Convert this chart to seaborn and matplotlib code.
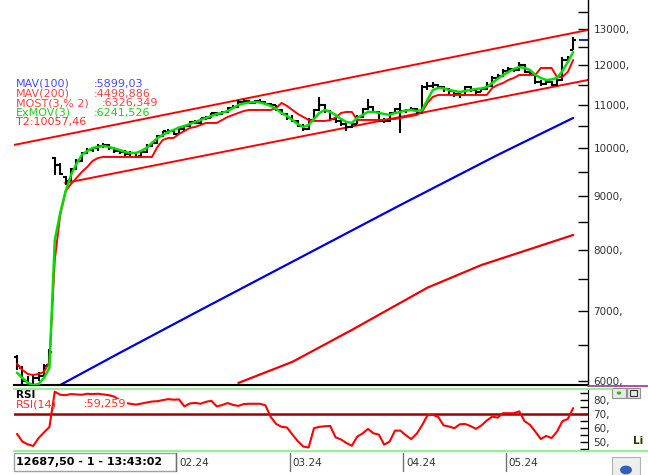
import numpy as np
import matplotlib
matplotlib.use('Agg')
import matplotlib.pyplot as plt
import seaborn as sns
from matplotlib import transforms
from matplotlib.ticker import FixedLocator, FuncFormatter, NullFormatter
from matplotlib.patches import Rectangle, Circle
from matplotlib.lines import Line2D

# ---------------- data ----------------
open_ = [6330, 6180, 6000, 5960, 6040, 6070, 6210, 9790, 9650, 9400,
         9330, 9560, 9720, 9900, 9960, 10000, 10060, 10070, 10000, 9950,
         9920, 9880, 9900, 9830, 9930, 10060, 10130, 10280, 10370, 10400,
         10330, 10430, 10500, 10600, 10580, 10680, 10700, 10800, 10780, 10830,
         10940, 10960, 11080, 11100, 11060, 11100, 11080, 11020, 10990, 10880,
         10780, 10700, 10620, 10500, 10440, 10650, 10880, 11000, 10850, 10660,
         10620, 10540, 10480, 10560, 10720, 10900, 10950, 10830, 10630, 10620,
         10800, 10900, 10850, 10880, 10900, 10800, 11450, 11460, 11500, 11450,
         11400, 11340, 11280, 11250, 11450, 11380, 11330, 11390, 11460, 11680,
         11730, 11860, 11900, 11880, 12010, 11840, 11780, 11580, 11510, 11570,
         11500, 11620, 12150, 12420]
high = [6350, 6200, 6060, 6080, 6120, 6230, 6440, 9810, 9680, 9420,
        9580, 9760, 9930, 10000, 10030, 10090, 10120, 10090, 10030, 9990,
        9960, 9940, 9920, 9950, 10090, 10150, 10300, 10400, 10440, 10420,
        10460, 10520, 10620, 10640, 10700, 10740, 10820, 10840, 10850, 10960,
        11000, 11120, 11140, 11130, 11120, 11140, 11100, 11060, 11000, 10900,
        10800, 10760, 10640, 10540, 10680, 10900, 11200, 11020, 10870, 10700,
        10640, 10570, 10600, 10760, 10940, 11150, 10970, 10850, 10680, 10840,
        10940, 11050, 10910, 10950, 10920, 11500, 11560, 11580, 11520, 11480,
        11420, 11360, 11300, 11480, 11470, 11400, 11420, 11560, 11720, 11780,
        11900, 11950, 11940, 12100, 12030, 11870, 11800, 11620, 11620, 11590,
        11720, 12220, 12260, 12780]
low = [6150, 5960, 5930, 5930, 6000, 6050, 6200, 9430, 9430, 9230,
       9300, 9540, 9700, 9870, 9920, 9950, 10010, 9960, 9900, 9880,
       9820, 9840, 9790, 9800, 9900, 10030, 10100, 10260, 10330, 10300,
       10320, 10400, 10480, 10540, 10560, 10640, 10680, 10740, 10750, 10800,
       10900, 10940, 11040, 11040, 11030, 11050, 10990, 10960, 10860, 10760,
       10650, 10600, 10480, 10400, 10420, 10630, 10860, 10820, 10640, 10580,
       10500, 10400, 10450, 10540, 10700, 10880, 10800, 10600, 10580, 10600,
       10780, 10350, 10820, 10850, 10760, 10780, 11380, 11420, 11400, 11330,
       11260, 11200, 11170, 11240, 11320, 11280, 11310, 11370, 11440, 11660,
       11710, 11820, 11840, 11860, 11800, 11740, 11520, 11460, 11490, 11460,
       11480, 11600, 12080, 12400]
close = [6200, 6000, 5950, 6040, 6060, 6200, 6400, 9650, 9460, 9300,
         9550, 9720, 9900, 9960, 10000, 10060, 10080, 10000, 9950, 9920,
         9870, 9910, 9820, 9930, 10060, 10120, 10280, 10380, 10400, 10330,
         10430, 10500, 10600, 10580, 10680, 10700, 10800, 10780, 10830, 10940,
         10960, 11080, 11100, 11060, 11100, 11080, 11020, 10990, 10880, 10780,
         10700, 10620, 10500, 10440, 10650, 10880, 11000, 10850, 10660, 10620,
         10540, 10480, 10560, 10720, 10900, 10950, 10830, 10630, 10620, 10800,
         10900, 10850, 10880, 10900, 10800, 11450, 11460, 11500, 11450, 11400,
         11340, 11280, 11250, 11450, 11380, 11330, 11390, 11460, 11680, 11730,
         11860, 11900, 11880, 12010, 11840, 11780, 11580, 11510, 11570, 11500,
         11620, 12150, 12200, 12687.5]
exmov = [6110, 6040, 5974, 5947, 5960, 6040, 6174, 8178, 8678, 9100,
         9433, 9664, 9857, 9944, 10010, 10032, 10054, 10032, 10000, 9966,
         9922, 9900, 9900, 9944, 10010, 10120, 10232, 10300, 10368, 10413,
         10470, 10505, 10550, 10598, 10645, 10692, 10738, 10786, 10810, 10857,
         10929, 11001, 11038, 11062, 11074, 11062, 11025, 10977, 10905, 10810,
         10738, 10645, 10550, 10482, 10528, 10668, 10810, 10881, 10834, 10762,
         10668, 10598, 10575, 10692, 10762, 10834, 10834, 10810, 10786, 10762,
         10810, 10834, 10869, 10881, 10857, 10881, 11123, 11369, 11419, 11407,
         11369, 11345, 11320, 11345, 11369, 11394, 11407, 11444, 11545, 11648,
         11750, 11828, 11906, 11958, 11932, 11880, 11750, 11673, 11622, 11635,
         11673, 11854, 12090, 12358]
most = [6230, 6147, 6093, 6079, 6093, 6120, 6257, 7826, 8640, 9100,
        9248, 9370, 9495, 9600, 9728, 9792, 9814, 9814, 9814, 9814,
        9814, 9814, 9814, 9814, 9814, 9814, 10032, 10187, 10232, 10232,
        10322, 10390, 10459, 10482, 10528, 10575, 10575, 10575, 10645, 10715,
        10762, 10810, 10857, 10881, 10881, 10881, 10881, 10881, 10929, 11050,
        10977, 10881, 10786, 10715, 10645, 10622, 10622, 10622, 10640, 10700,
        10810, 10834, 10834, 10645, 10645, 10645, 10645, 10645, 10645, 10668,
        10668, 10692, 10715, 10738, 10762, 10834, 11050, 11197, 11246, 11246,
        11246, 11246, 11246, 11246, 11246, 11246, 11246, 11246, 11419, 11494,
        11545, 11622, 11673, 11750, 11750, 11750, 11750, 11932, 11932, 11932,
        11699, 11699, 11828, 12143]
rsi = [56, 50.5, 48.5, 47.4, 53, 57, 60.8, 86, 83.8, 83.5,
       84.3, 84, 83.8, 84.5, 84.3, 84.5, 84, 83.5, 82.5, 80,
       78, 77.4, 76.8, 77.5, 78.3, 79, 79.2, 80, 80.7, 80.3,
       80.5, 75.5, 77.6, 78, 77.4, 78.8, 79.5, 75.5, 76.5, 77.9,
       76.6, 75.9, 77.2, 77.4, 77.4, 77.4, 76.3, 68, 63, 61,
       60.5, 55.5, 50.8, 47, 46.3, 60, 61, 61.4, 61.6, 53.5,
       52, 49.5, 47.5, 54, 56.3, 59.5, 56.4, 55.5, 48.3, 50.5,
       58.3, 58.3, 55, 52.3, 56, 62, 69.2, 69.5, 68, 62,
       61.2, 60, 62.8, 63, 61.5, 59.5, 62, 65.5, 68.3, 67.5,
       70.7, 70.7, 70.7, 72, 65, 62.4, 57.5, 52.3, 54.5, 53,
       57.6, 65, 66.6, 74.3]

mav100_bar = [8, 19, 34, 52, 71, 89, 103]
mav100_val = [5947, 6381, 7013, 7845, 8831, 9857, 10692]
mav200_bar = [41, 51, 62, 76, 86, 103]
mav200_val = [5974, 6257, 6711, 7364, 7740, 8268]

chan_up_bar = [-0.56, 105.74]
chan_up_val = [10076, 12971]
chan_lo_bar = [8.9, 105.74]
chan_lo_val = [9268, 11622]

price_ticks = [6000, 7000, 8000, 9000, 10000, 11000, 12000, 13000]
price_minor = [6500, 7500, 8500, 9500, 10500, 11500, 12500, 13500]
rsi_ticks = [50, 60, 70, 80]
rsi_minor = [45, 55, 65, 75, 85]
month_pos = [29.5, 50.5, 71.5, 90.5]
month_labels = ["02.24", "03.24", "04.24", "05.24"]

legend_names = ["MAV(100)", "MAV(200)", "MOST(3,% 2)", "ExMOV(3)"]
legend_values = [":5899,03", ":4498,886", ":6326,349", ":6241,526"]
t2_label = "T2:10057,46"
status_text = "12687,50 - 1 - 13:43:02"
rsi_value = ":59,259"

# ---------------- figure ----------------
sns.set_style('white')
plt.rcParams['font.family'] = ['DejaVu Sans']

W, H = 648, 475
fig = plt.figure(figsize=(6.48, 4.75), dpi=100)
fig.patch.set_facecolor('white')


def fx(x):
    return x / W


def fy(y):
    return 1 - y / H


ax = fig.add_axes([fx(14), fy(385), (588 - 14) / W, 385 / H])
ax_r = fig.add_axes([fx(14), fy(451), (588 - 14) / W, 62 / H])

bars = np.arange(len(close))
XL = (-0.556, 105.74)

ax.set_yscale('log')

# channel lines
sns.lineplot(x=chan_up_bar, y=chan_up_val, ax=ax, color='#ff0000', lw=1.4)
sns.lineplot(x=chan_lo_bar, y=chan_lo_val, ax=ax, color='#ff0000', lw=1.4)
# moving averages
sns.lineplot(x=mav100_bar, y=mav100_val, ax=ax, color='#0000dd', lw=1.6)
sns.lineplot(x=mav200_bar, y=mav200_val, ax=ax, color='#ee0000', lw=1.6)

# OHLC bars
bars_a = np.array(bars, dtype=float)
ax.vlines(bars_a, low, high, color='black', lw=1.5, zorder=3)
ax.hlines(open_, bars_a - 0.55, bars_a, color='black', lw=1.5, zorder=3)
ax.hlines(close, bars_a, bars_a + 0.55, color='black', lw=1.5, zorder=3)

# MOST and ExMOV
sns.lineplot(x=bars, y=most, ax=ax, color='#ff0000', lw=1.4, zorder=4)
sns.lineplot(x=bars, y=exmov, ax=ax, color='#00dd00', lw=1.8, zorder=5)

# last price marker
ax.hlines(close[-1], 104.0, XL[1], color='#000080', lw=1.2, zorder=5)

ax.set_xlim(*XL)
ax.set_ylim(5947, 13854)
ax.yaxis.set_major_locator(FixedLocator(price_ticks))
ax.yaxis.set_minor_locator(FixedLocator(price_minor))
ax.yaxis.set_major_formatter(FuncFormatter(lambda v, p: f"{int(round(v))},"))
ax.yaxis.set_minor_formatter(NullFormatter())
ax.yaxis.tick_right()
ax.tick_params(axis='y', which='both', direction='in', length=7, width=1,
               color='black', labelsize=7.5, labelcolor='#333333', pad=4)
ax.set_xticks([])
ax.set_xlabel('')
ax.set_ylabel('')
for s in ['top', 'left']:
    ax.spines[s].set_visible(False)
ax.spines['bottom'].set_color('black')
ax.spines['bottom'].set_linewidth(1.5)
ax.spines['right'].set_color('black')
ax.spines['right'].set_linewidth(1.0)

# ---------------- RSI panel ----------------
ax_r.axhline(70, color='#990000', lw=1.8, zorder=2)
sns.lineplot(x=bars, y=rsi, ax=ax_r, color='#ff0000', lw=1.5, zorder=3)
ax_r.set_xlim(*XL)
ax_r.set_ylim(43.8, 87.9)
ax_r.yaxis.set_major_locator(FixedLocator(rsi_ticks))
ax_r.yaxis.set_minor_locator(FixedLocator(rsi_minor))
ax_r.yaxis.set_major_formatter(FuncFormatter(lambda v, p: f"{int(round(v))},"))
ax_r.yaxis.set_minor_formatter(NullFormatter())
ax_r.yaxis.tick_right()
ax_r.tick_params(axis='y', which='both', direction='in', length=6, width=1,
                 color='black', labelsize=7.5, labelcolor='#333333', pad=4)
ax_r.set_xticks([])
ax_r.set_xlabel('')
ax_r.set_ylabel('')
for s in ['top', 'left', 'bottom']:
    ax_r.spines[s].set_visible(False)
ax_r.spines['right'].set_color('black')

# panel borders
fig.add_artist(Line2D([fx(588), 1], [fy(386), fy(386)], color='#993399', lw=1.2))
fig.add_artist(Line2D([fx(14), fx(612)], [fy(389), fy(389)], color='#99ee99', lw=1.5))
fig.add_artist(Line2D([fx(14), 1], [fy(451), fy(451)], color='#99ee99', lw=1.5))

# ---------------- texts ----------------
leg_colors = ['#4a4aff', '#ff4040', '#ff4040', '#22cc22']
leg_y = [84, 93.5, 103, 112.7]
val_x = [94, 94, 102, 94]
for name, val, c, yy, vx in zip(legend_names, legend_values, leg_colors, leg_y, val_x):
    fig.text(fx(16), fy(yy), name, color=c, fontsize=8, va='center', ha='left')
    fig.text(fx(vx), fy(yy), val, color=c, fontsize=8, va='center', ha='left')
fig.text(fx(16), fy(122), t2_label, color='#ff3030', fontsize=8, va='center', ha='left')

fig.text(fx(16), fy(395), "RSI", color='black', fontsize=7.5, fontweight='bold',
         va='center', ha='left')
fig.text(fx(16), fy(404.5), "RSI(14)", color='#ff3030', fontsize=8, va='center', ha='left')
fig.text(fx(84), fy(404.5), rsi_value, color='#ff3030', fontsize=8, va='center', ha='left',
         bbox=dict(facecolor='white', edgecolor='none', pad=0.5))

# bottom status box and month labels
fig.add_artist(Rectangle((fx(14), fy(471)), (176 - 14) / W, 18 / H, transform=fig.transFigure,
                         facecolor='white', edgecolor='#a0a0a0', lw=1))
fig.text(fx(16), fy(462), status_text, color='black', fontsize=8, fontweight='bold',
         va='center', ha='left')
trans = transforms.blended_transform_factory(ax_r.transData, fig.transFigure)
label_trans = transforms.offset_copy(trans, fig=fig, x=3, y=0, units='dots')
for pos, lab in zip(month_pos, month_labels):
    fig.add_artist(Line2D([pos, pos], [fy(453), fy(471)], transform=trans,
                          color='#707070', lw=1))
    fig.text(pos, fy(463), lab, transform=label_trans,
             color='#333333', fontsize=7.5, va='center', ha='left')

# small widgets on the right
fig.add_artist(Rectangle((fx(612), fy(398)), 14 / W, 10 / H, transform=fig.transFigure,
                         facecolor='#e8e8e8', edgecolor='#909090', lw=0.8))
fig.add_artist(Circle((fx(619), fy(393)), 2.2 / W, transform=fig.transFigure,
                      facecolor='#22bb22', edgecolor='none'))
fig.add_artist(Rectangle((fx(627), fy(398)), 13 / W, 10 / H, transform=fig.transFigure,
                         facecolor='#e8e8e8', edgecolor='#909090', lw=0.8))
fig.add_artist(Rectangle((fx(630), fy(396)), 7 / W, 6 / H, transform=fig.transFigure,
                         facecolor='none', edgecolor='#333333', lw=0.8))
fig.text(fx(633), fy(441), "Li", color='#333300', fontsize=7.5, fontweight='bold',
         va='center', ha='left')
fig.add_artist(Rectangle((fx(612), fy(475)), 28 / W, 18 / H, transform=fig.transFigure,
                         facecolor='#eeeeee', edgecolor='#b0b0b0', lw=0.8))
fig.add_artist(Circle((fx(626), fy(470)), 6 / W, transform=fig.transFigure,
                      facecolor='#3060c0', edgecolor='none'))

fig.savefig('out.png', dpi=100, facecolor='white')
